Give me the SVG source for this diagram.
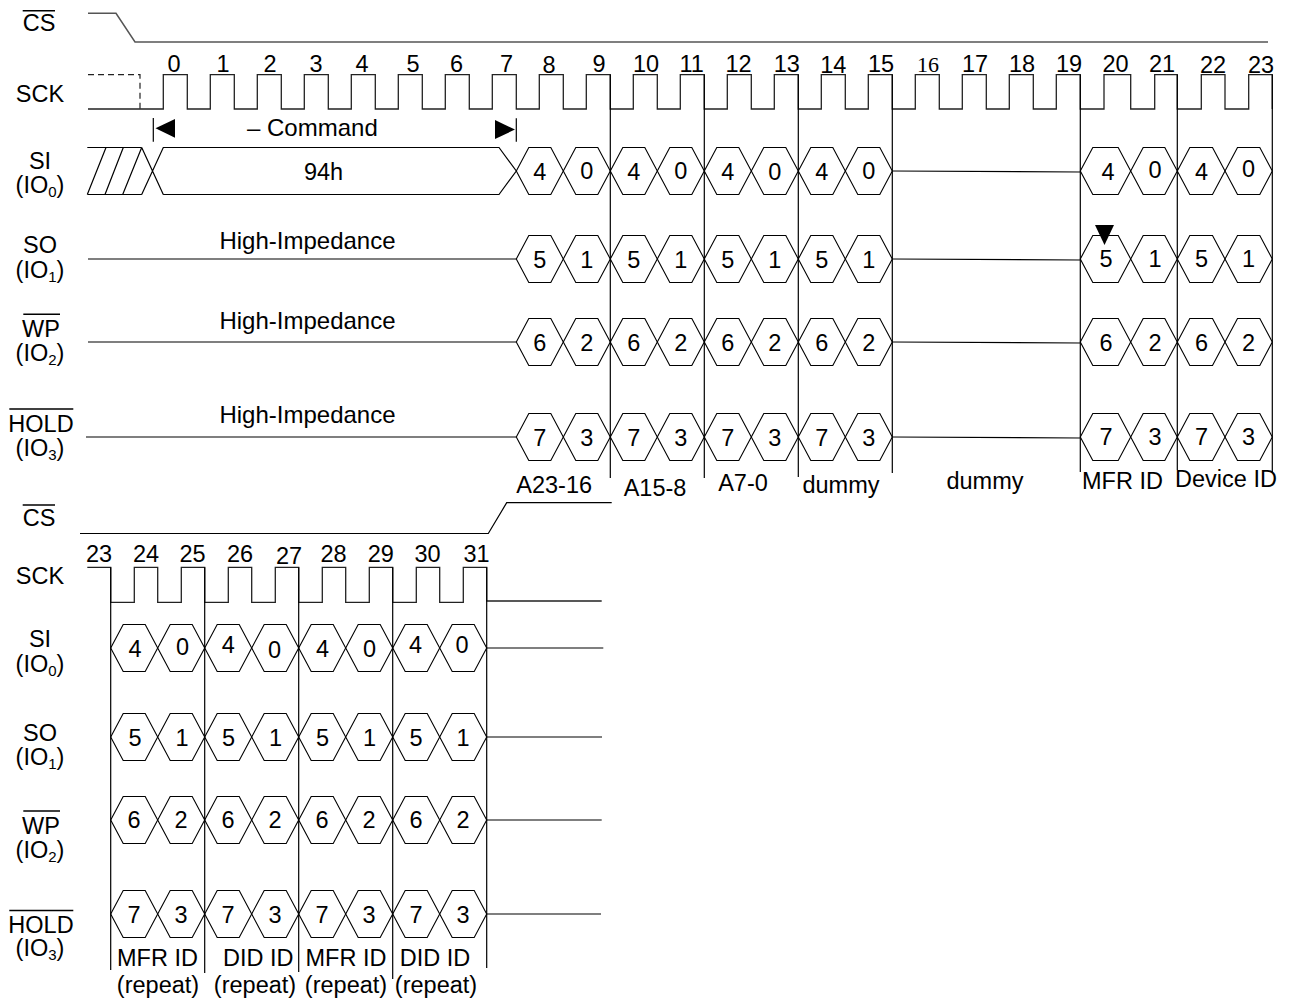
<svg xmlns="http://www.w3.org/2000/svg" width="1289" height="1002" viewBox="0 0 1289 1002">
<style>
text{font-family:"Liberation Sans",Arial,sans-serif;font-size:23.5px;fill:#000}
.big{font-size:24px}
.sub{font-size:15px}
.ln{fill:none;stroke:#000;stroke-width:1.2}
.cs{fill:none;stroke:#555;stroke-width:1.5}
.ck{fill:none;stroke:#222;stroke-width:1.3}
.hx{fill:none;stroke:#000;stroke-width:1.1}
.ov{stroke:#000;stroke-width:1.5}
.dash{fill:none;stroke:#222;stroke-width:1.2;stroke-dasharray:6,4}
.serif{font-family:"Liberation Serif","Times New Roman",serif;font-size:22px}
.ar{fill:#000;stroke:none}
</style>
<defs><polygon id="hx" class="hx" points="0,0 12.5,-23.5 34.5,-23.5 47,0 34.5,23.5 12.5,23.5"/></defs>
<rect width="1289" height="1002" fill="#fff"/>

<g id="labels-top" text-anchor="middle">
<text x="39" y="30.5">CS</text><line class="ov" x1="22.7" y1="10.7" x2="55" y2="10.7"/>
<text x="40" y="101.7">SCK</text>
<text x="40" y="168.5">SI</text>
<text x="40" y="193">(IO<tspan class="sub" dy="4">0</tspan><tspan dy="-4">)</tspan></text>
<text x="40" y="253">SO</text>
<text x="40" y="278">(IO<tspan class="sub" dy="4">1</tspan><tspan dy="-4">)</tspan></text>
<text x="41" y="336.5">WP</text><line class="ov" x1="23.3" y1="314.3" x2="60" y2="314.3"/>
<text x="40" y="361">(IO<tspan class="sub" dy="4">2</tspan><tspan dy="-4">)</tspan></text>
<text x="41" y="432">HOLD</text><line class="ov" x1="9.3" y1="409" x2="73.3" y2="409"/>
<text x="40" y="456">(IO<tspan class="sub" dy="4">3</tspan><tspan dy="-4">)</tspan></text>
</g>

<g id="labels-bottom" text-anchor="middle">
<text x="39" y="526">CS</text><line class="ov" x1="22.7" y1="505" x2="55" y2="505"/>
<text x="40" y="584">SCK</text>
<text x="40" y="647">SI</text>
<text x="40" y="672">(IO<tspan class="sub" dy="4">0</tspan><tspan dy="-4">)</tspan></text>
<text x="40" y="741">SO</text>
<text x="40" y="765">(IO<tspan class="sub" dy="4">1</tspan><tspan dy="-4">)</tspan></text>
<text x="41" y="834">WP</text><line class="ov" x1="23.3" y1="811" x2="60" y2="811"/>
<text x="40" y="858">(IO<tspan class="sub" dy="4">2</tspan><tspan dy="-4">)</tspan></text>
<text x="41" y="932.5">HOLD</text><line class="ov" x1="9.3" y1="910.5" x2="73.3" y2="910.5"/>
<text x="40" y="956">(IO<tspan class="sub" dy="4">3</tspan><tspan dy="-4">)</tspan></text>
</g>

<g id="cs-top">
<path class="cs" d="M88,13.3 H116 L135,42 H1268"/>
</g>

<g id="sck-top">
<path class="dash" d="M88,74.7 H140 V109"/>
<path class="ck" d="M88,109 H163.3 V74.7 H187.3 V109 H210.3 V74.7 H234.3 V109 H257.3 V74.7 H281.3 V109 H304.3 V74.7 H328.3 V109 H351.3 V74.7 H375.3 V109 H398.3 V74.7 H422.3 V109 H445.3 V74.7 H469.3 V109 H492.3 V74.7 H516.3 V109 H539.3 V74.7 H563.3 V109 H586.3 V74.7 H610.3 V109 H633.3 V74.7 H657.3 V109 H680.3 V74.7 H704.3 V109 H727.3 V74.7 H751.3 V109 H774.3 V74.7 H798.3 V109 H821.3 V74.7 H845.3 V109 H868.3 V74.7 H892.3 V109 H915.3 V74.7 H939.3 V109 H962.3 V74.7 H986.3 V109 H1009.3 V74.7 H1033.3 V109 H1056.3 V74.7 H1080.3 V109 H1104 V74.7 H1130.7 V109 H1154.7 V74.7 H1177.3 V109 H1201.3 V74.7 H1225 V109 H1248.7 V74.7 H1272.3 V109"/>
</g>

<g id="clock-numbers-top" text-anchor="middle">
<text x="174" y="71.7">0</text>
<text x="223" y="71.7">1</text>
<text x="270" y="71.7">2</text>
<text x="316" y="71.7">3</text>
<text x="362" y="71.7">4</text>
<text x="413" y="71.7">5</text>
<text x="456.5" y="71.7">6</text>
<text x="506.5" y="71.7">7</text>
<text x="549" y="73.3">8</text>
<text x="599" y="71.7">9</text>
<text x="646" y="71.7">10</text>
<text x="691.7" y="71.7">11</text>
<text x="738.5" y="71.7">12</text>
<text x="786.7" y="71.7">13</text>
<text x="833.3" y="73.3">14</text>
<text x="881" y="71.7">15</text>
<text class="serif" x="928" y="71.7">16</text>
<text x="975" y="71.7">17</text>
<text x="1022" y="71.7">18</text>
<text x="1069" y="71.7">19</text>
<text x="1115.5" y="71.7">20</text>
<text x="1162" y="71.7">21</text>
<text x="1213" y="73.3">22</text>
<text x="1261" y="73.3">23</text>
</g>

<g id="command">
<line class="ln" x1="153.3" y1="118" x2="153.3" y2="141.7"/>
<polygon class="ar" points="155.5,128.3 175,119 175,137.7"/>
<line class="ln" x1="516.3" y1="118.3" x2="516.3" y2="141.7"/>
<polygon class="ar" points="515,129.5 495,120 495,139"/>
<text class="big" x="247" y="135.5">– Command</text>
</g>

<g id="connectors">
<path class="ln" d="M610.3,74.7 V478 M704.3,74.7 V478 M798.3,74.7 V477 M892.3,74.7 V473 M1080.3,74.7 V472 M1177.3,74.7 V470 M1272.3,74.7 V472"/>
<path class="ln" d="M892.3,171 L1080.3,172 M892.3,259 L1080.3,260 M892.3,342 L1080.3,343 M892.3,437 L1080.3,438"/>
<path class="ln" d="M88,259 H516.3 M88,342 H516.3 M86,437 H516.3"/>
</g>

<g id="si-top">
<path class="ln" d="M87.3,147.5 H141.7 M87.3,194.5 H141.7 M87.3,194.5 L106,147.5 M105,194.5 L123.3,147.5 M122.7,194.5 L141.7,147.5 M141.7,147.5 L163.3,194.5 M141.7,194.5 L163.3,147.5 H499 L516.3,171 L499,194.5 H163.3"/>
<text x="323.5" y="180" text-anchor="middle">94h</text>
<use href="#hx" x="516.3" y="171"/><use href="#hx" x="563.3" y="171"/><use href="#hx" x="610.3" y="171"/><use href="#hx" x="657.3" y="171"/>
<use href="#hx" x="704.3" y="171"/><use href="#hx" x="751.3" y="171"/><use href="#hx" x="798.3" y="171"/><use href="#hx" x="845.3" y="171"/>
<polygon class="hx" points="1080.3,171 1092.8,147.5 1118.2,147.5 1130.7,171 1118.2,194.5 1092.8,194.5"/>
<polygon class="hx" points="1130.7,171 1143.2,147.5 1164.8,147.5 1177.3,171 1164.8,194.5 1143.2,194.5"/>
<polygon class="hx" points="1177.3,171 1189.8,147.5 1212.5,147.5 1225,171 1212.5,194.5 1189.8,194.5"/>
<polygon class="hx" points="1225,171 1237.5,147.5 1259.8,147.5 1272.3,171 1259.8,194.5 1237.5,194.5"/>
<g text-anchor="middle">
<text x="539.8" y="179.5">4</text><text x="586.8" y="178.5">0</text><text x="633.8" y="179.5">4</text><text x="680.8" y="178.5">0</text>
<text x="727.8" y="179.5">4</text><text x="774.8" y="180">0</text><text x="821.8" y="179.5">4</text><text x="868.8" y="178.5">0</text>
<text x="1108" y="180">4</text><text x="1155" y="178">0</text><text x="1201.5" y="180">4</text><text x="1248.5" y="177">0</text>
</g>
</g>

<g id="so-top">
<use href="#hx" x="516.3" y="259"/><use href="#hx" x="563.3" y="259"/><use href="#hx" x="610.3" y="259"/><use href="#hx" x="657.3" y="259"/>
<use href="#hx" x="704.3" y="259"/><use href="#hx" x="751.3" y="259"/><use href="#hx" x="798.3" y="259"/><use href="#hx" x="845.3" y="259"/>
<polygon class="hx" points="1080.3,259 1092.8,235.5 1118.2,235.5 1130.7,259 1118.2,282.5 1092.8,282.5"/>
<polygon class="hx" points="1130.7,259 1143.2,235.5 1164.8,235.5 1177.3,259 1164.8,282.5 1143.2,282.5"/>
<polygon class="hx" points="1177.3,259 1189.8,235.5 1212.5,235.5 1225,259 1212.5,282.5 1189.8,282.5"/>
<polygon class="hx" points="1225,259 1237.5,235.5 1259.8,235.5 1272.3,259 1259.8,282.5 1237.5,282.5"/>
<polygon class="ar" points="1095,225 1114,225 1104.5,245"/>
<g text-anchor="middle">
<text x="539.8" y="267.5">5</text><text x="586.8" y="267.5">1</text><text x="633.8" y="267.5">5</text><text x="680.8" y="267.5">1</text>
<text x="727.8" y="267.5">5</text><text x="774.8" y="267.5">1</text><text x="821.8" y="267.5">5</text><text x="868.8" y="267.5">1</text>
<text x="1106" y="267">5</text><text x="1155" y="267">1</text><text x="1201.5" y="267">5</text><text x="1248.5" y="267">1</text>
</g>
<text class="big" x="307.5" y="249.3" text-anchor="middle">High-Impedance</text>
</g>

<g id="wp-top">
<use href="#hx" x="516.3" y="342"/><use href="#hx" x="563.3" y="342"/><use href="#hx" x="610.3" y="342"/><use href="#hx" x="657.3" y="342"/>
<use href="#hx" x="704.3" y="342"/><use href="#hx" x="751.3" y="342"/><use href="#hx" x="798.3" y="342"/><use href="#hx" x="845.3" y="342"/>
<polygon class="hx" points="1080.3,342 1092.8,318.5 1118.2,318.5 1130.7,342 1118.2,365.5 1092.8,365.5"/>
<polygon class="hx" points="1130.7,342 1143.2,318.5 1164.8,318.5 1177.3,342 1164.8,365.5 1143.2,365.5"/>
<polygon class="hx" points="1177.3,342 1189.8,318.5 1212.5,318.5 1225,342 1212.5,365.5 1189.8,365.5"/>
<polygon class="hx" points="1225,342 1237.5,318.5 1259.8,318.5 1272.3,342 1259.8,365.5 1237.5,365.5"/>
<g text-anchor="middle">
<text x="539.8" y="351">6</text><text x="586.8" y="351">2</text><text x="633.8" y="351">6</text><text x="680.8" y="351">2</text>
<text x="727.8" y="351">6</text><text x="774.8" y="351">2</text><text x="821.8" y="351">6</text><text x="868.8" y="351">2</text>
<text x="1106" y="350.5">6</text><text x="1155" y="350.5">2</text><text x="1201.5" y="350.5">6</text><text x="1248.5" y="350.5">2</text>
</g>
<text class="big" x="307.5" y="328.5" text-anchor="middle">High-Impedance</text>
</g>

<g id="hold-top">
<use href="#hx" x="516.3" y="437"/><use href="#hx" x="563.3" y="437"/><use href="#hx" x="610.3" y="437"/><use href="#hx" x="657.3" y="437"/>
<use href="#hx" x="704.3" y="437"/><use href="#hx" x="751.3" y="437"/><use href="#hx" x="798.3" y="437"/><use href="#hx" x="845.3" y="437"/>
<polygon class="hx" points="1080.3,437 1092.8,413.5 1118.2,413.5 1130.7,437 1118.2,460.5 1092.8,460.5"/>
<polygon class="hx" points="1130.7,437 1143.2,413.5 1164.8,413.5 1177.3,437 1164.8,460.5 1143.2,460.5"/>
<polygon class="hx" points="1177.3,437 1189.8,413.5 1212.5,413.5 1225,437 1212.5,460.5 1189.8,460.5"/>
<polygon class="hx" points="1225,437 1237.5,413.5 1259.8,413.5 1272.3,437 1259.8,460.5 1237.5,460.5"/>
<g text-anchor="middle">
<text x="539.8" y="446">7</text><text x="586.8" y="446">3</text><text x="633.8" y="446">7</text><text x="680.8" y="446">3</text>
<text x="727.8" y="446">7</text><text x="774.8" y="446">3</text><text x="821.8" y="446">7</text><text x="868.8" y="446">3</text>
<text x="1106" y="445">7</text><text x="1155" y="445">3</text><text x="1201.5" y="445">7</text><text x="1248.5" y="445">3</text>
</g>
<text class="big" x="307.5" y="422.7" text-anchor="middle">High-Impedance</text>
</g>

<g id="segment-labels-top" text-anchor="middle">
<text x="554.2" y="492.5">A23-16</text>
<text x="655" y="495.5">A15-8</text>
<text x="743" y="491">A7-0</text>
<text x="841" y="492.5">dummy</text>
<text x="985" y="489">dummy</text>
<text x="1122.5" y="489">MFR ID</text>
<text x="1226" y="487">Device ID</text>
</g>

<g id="cs-bottom">
<path class="ln" d="M80,533.5 H488.3 L506.7,502.7 H611.7"/>
</g>

<g id="sck-bottom">
<path class="ck" d="M87.3,567.3 H110.7 V602.3 H134.3 V567.3 H157.7 V602.3 H181.3 V567.3 H204.7 V602.3 H228.3 V567.3 H251.7 V602.3 H275.3 V567.3 H298.7 V602.3 H322.3 V567.3 H345.7 V602.3 H369.3 V567.3 H392.7 V602.3 H416.3 V567.3 H439.7 V602.3 H463.3 V567.3 H486.7 V601 H601.7"/>
</g>

<g id="clock-numbers-bottom" text-anchor="middle">
<text x="99" y="561.7">23</text>
<text x="146" y="561.7">24</text>
<text x="192.5" y="561.7">25</text>
<text x="240" y="561.7">26</text>
<text x="289" y="564">27</text>
<text x="333.5" y="561.7">28</text>
<text x="380.7" y="561.7">29</text>
<text x="427.5" y="561.7">30</text>
<text x="476.5" y="561.7">31</text>
</g>

<g id="connectors-bottom">
<path class="ln" d="M110.7,567.3 V970 M204.7,567.3 V973 M298.7,567.3 V972 M392.7,567.3 V979 M486.7,567.3 V968"/>
<path class="ln" d="M486.7,648 H603.3 M486.7,737 H602 M486.7,820 H601.7 M486.7,914 H601"/>
</g>

<g id="si-bottom">
<use href="#hx" x="110.7" y="648"/><use href="#hx" x="157.7" y="648"/><use href="#hx" x="204.7" y="648"/><use href="#hx" x="251.7" y="648"/>
<use href="#hx" x="298.7" y="648"/><use href="#hx" x="345.7" y="648"/><use href="#hx" x="392.7" y="648"/><use href="#hx" x="439.7" y="648"/>
<g text-anchor="middle">
<text x="135" y="656.7">4</text><text x="182.5" y="655">0</text><text x="228.3" y="653.3">4</text><text x="274.5" y="658.3">0</text>
<text x="322.5" y="656.7">4</text><text x="369.5" y="656.7">0</text><text x="415.5" y="652.7">4</text><text x="462" y="653.3">0</text>
</g>
</g>

<g id="so-bottom">
<use href="#hx" x="110.7" y="737"/><use href="#hx" x="157.7" y="737"/><use href="#hx" x="204.7" y="737"/><use href="#hx" x="251.7" y="737"/>
<use href="#hx" x="298.7" y="737"/><use href="#hx" x="345.7" y="737"/><use href="#hx" x="392.7" y="737"/><use href="#hx" x="439.7" y="737"/>
<g text-anchor="middle">
<text x="135" y="745.5">5</text><text x="182" y="745.5">1</text><text x="228.5" y="745.5">5</text><text x="275.5" y="745.5">1</text>
<text x="322.5" y="745.5">5</text><text x="369.5" y="745.5">1</text><text x="416" y="745.5">5</text><text x="463" y="745.5">1</text>
</g>
</g>

<g id="wp-bottom">
<use href="#hx" x="110.7" y="820"/><use href="#hx" x="157.7" y="820"/><use href="#hx" x="204.7" y="820"/><use href="#hx" x="251.7" y="820"/>
<use href="#hx" x="298.7" y="820"/><use href="#hx" x="345.7" y="820"/><use href="#hx" x="392.7" y="820"/><use href="#hx" x="439.7" y="820"/>
<g text-anchor="middle">
<text x="134" y="828.3">6</text><text x="181" y="828.3">2</text><text x="228" y="828.3">6</text><text x="275" y="828.3">2</text>
<text x="322" y="828.3">6</text><text x="369" y="828.3">2</text><text x="416" y="828.3">6</text><text x="463" y="828.3">2</text>
</g>
</g>

<g id="hold-bottom">
<use href="#hx" x="110.7" y="914"/><use href="#hx" x="157.7" y="914"/><use href="#hx" x="204.7" y="914"/><use href="#hx" x="251.7" y="914"/>
<use href="#hx" x="298.7" y="914"/><use href="#hx" x="345.7" y="914"/><use href="#hx" x="392.7" y="914"/><use href="#hx" x="439.7" y="914"/>
<g text-anchor="middle">
<text x="134" y="922.5">7</text><text x="181" y="922.5">3</text><text x="228" y="922.5">7</text><text x="275" y="922.5">3</text>
<text x="322" y="922.5">7</text><text x="369" y="922.5">3</text><text x="416" y="922.5">7</text><text x="463" y="922.5">3</text>
</g>
</g>

<g id="segment-labels-bottom" text-anchor="middle">
<text x="157.5" y="966">MFR ID</text>
<text x="258.3" y="966">DID ID</text>
<text x="346" y="966">MFR ID</text>
<text x="435" y="966">DID ID</text>
<text x="158" y="993">(repeat)</text>
<text x="255" y="993">(repeat)</text>
<text x="346" y="993">(repeat)</text>
<text x="436" y="993">(repeat)</text>
</g>
</svg>
